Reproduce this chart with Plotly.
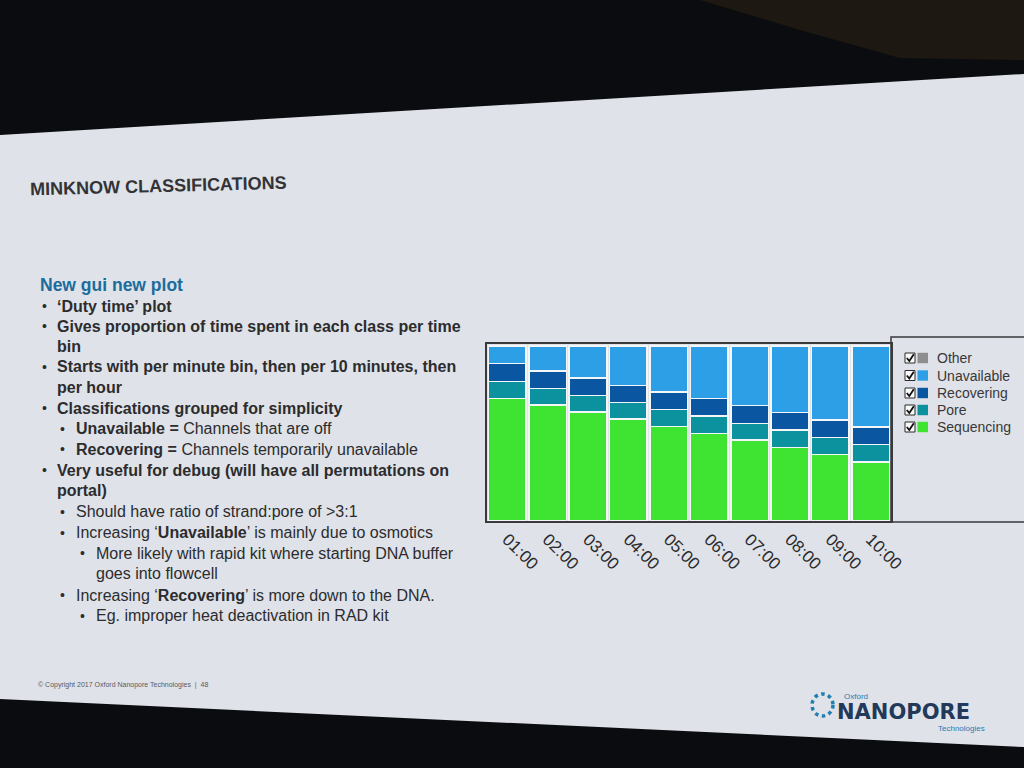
import plotly.graph_objects as go

W, H = 1024, 768

# ---------------- data ----------------
hours = ["01:00", "02:00", "03:00", "04:00", "05:00", "06:00", "07:00", "08:00", "09:00", "10:00"]
sequencing = [70.0, 66.1, 62.1, 58.1, 54.0, 50.0, 46.2, 42.0, 38.0, 33.8]
pore = [9.6, 9.5, 9.6, 9.6, 9.7, 10.0, 9.5, 9.9, 9.6, 9.9]
recovering = [10.4, 9.9, 10.0, 9.7, 10.0, 9.8, 10.1, 9.9, 10.0, 9.8]
unavailable = [10.0, 14.5, 18.3, 22.6, 26.3, 30.2, 34.2, 38.2, 42.4, 46.5]
other = [0, 0, 0, 0, 0, 0, 0, 0, 0, 0]

series_names = ["Sequencing", "Pore", "Recovering", "Unavailable", "Other"]
series_values = [sequencing, pore, recovering, unavailable, other]
series_colors = ["#3fe433", "#0b929e", "#0a56a0", "#2d9fe6", "#8e8e8e"]


def px(x):
    return x / W


def py(y):
    return 1 - y / H


fig = go.Figure()
for name, vals, col in zip(series_names, series_values, series_colors):
    fig.add_trace(go.Bar(
        x=hours, y=vals, name=name, showlegend=False,
        marker=dict(color=col, line=dict(color="#f4f6f8", width=1.5)),
    ))

TXT = "Liberation Sans, Arial, sans-serif"
DARK = "#2c2c2e"

shapes = []
# slide surface
shapes.append(dict(type="path", xref="paper", yref="paper", layer="below",
                   path=f"M 0,{py(135)} L 1,{py(74)} L 1,{py(747)} L 0,{py(699)} Z",
                   fillcolor="#dfe2e8", line=dict(width=0)))
# dark object top right
shapes.append(dict(type="path", xref="paper", yref="paper", layer="below",
                   path=f"M {px(700)},1 L 1,1 L 1,{py(60)} L {px(900)},{py(58)} L {px(800)},{py(30)} Z",
                   fillcolor="#1d1812", line=dict(width=0)))
# legend box
shapes.append(dict(type="rect", xref="paper", yref="paper", layer="below",
                   x0=px(891), x1=1.02, y0=py(522), y1=py(337),
                   fillcolor="rgba(0,0,0,0)", line=dict(color="#3a3a3c", width=1.5)))
# logo ring
shapes.append(dict(type="circle", xref="paper", yref="paper", layer="below",
                   x0=px(812), x1=px(833), y0=py(716), y1=py(694),
                   fillcolor="rgba(0,0,0,0)", line=dict(color="#1f7fb0", width=3.5, dash="dot")))

ann = []


def text(x, y, s, size=16, color=DARK, angle=0, anchor="left", family=TXT):
    ann.append(dict(x=px(x), y=py(y), xref="paper", yref="paper", text=s,
                    showarrow=False, xanchor=anchor, yanchor="middle", textangle=angle,
                    font=dict(family=family, size=size, color=color)))


text(28, 186, "<b>MINKNOW CLASSIFICATIONS</b>", size=18, color="#333336", angle=-1.5)
text(38, 285, "<b>New gui new plot</b>", size=17.5, color="#1b6c9c")

B1, T1 = 40, 55
B2, T2 = 58, 74
B3, T3 = 78, 94
lines = [
    (B1, T1, 306, "<b>‘Duty time’ plot</b>"),
    (B1, T1, 326, "<b>Gives proportion of time spent in each class per time</b>"),
    (None, T1, 346.5, "<b>bin</b>"),
    (B1, T1, 367, "<b>Starts with per minute bin, then per 10 minutes, then</b>"),
    (None, T1, 387.5, "<b>per hour</b>"),
    (B1, T1, 408, "<b>Classifications grouped for simplicity</b>"),
    (B2, T2, 428.5, "<b>Unavailable =</b> Channels that are off"),
    (B2, T2, 449, "<b>Recovering =</b> Channels temporarily unavailable"),
    (B1, T1, 470, "<b>Very useful for debug (will have all permutations on</b>"),
    (None, T1, 490.5, "<b>portal)</b>"),
    (B2, T2, 511.5, "Should have ratio of strand:pore of >3:1"),
    (B2, T2, 532.5, "Increasing ‘<b>Unavailable</b>’ is mainly due to osmotics"),
    (B3, T3, 553, "More likely with rapid kit where starting DNA buffer"),
    (None, T3, 573.5, "goes into flowcell"),
    (B2, T2, 595, "Increasing ‘<b>Recovering</b>’ is more down to the DNA."),
    (B3, T3, 615.5, "Eg. improper heat deactivation in RAD kit"),
]
for bx, tx, y, s in lines:
    if bx is not None:
        text(bx, y, "•", size=14)
    text(tx, y, s, size=16)

# footer
text(36, 685, "© Copyright 2017 Oxford Nanopore Technologies  |  48", size=7, color="#5a5a5e")
text(842, 696, "Oxford", size=8, color="#2a7ab0")
text(835, 712, "<b>NANOPORE</b>", size=21, color="#22395a", family="DejaVu Sans, Liberation Sans, sans-serif")
text(987, 728, "Technologies", size=8, color="#2a7ab0", anchor="right")

# custom legend (checkbox + swatch + label), top to bottom: Other ... Sequencing
legend_rows_y = [358, 375.5, 393, 410, 427]
for y, name, col in zip(legend_rows_y, series_names[::-1], series_colors[::-1]):
    shapes.append(dict(type="rect", xref="paper", yref="paper",
                       x0=px(905), x1=px(915), y0=py(y + 5), y1=py(y - 5),
                       fillcolor="#fafafa", line=dict(color="#2a2a2a", width=1)))
    shapes.append(dict(type="path", xref="paper", yref="paper",
                       path=f"M {px(906.8)},{py(y)} L {px(909.3)},{py(y + 3)} L {px(913.8)},{py(y - 3.8)}",
                       line=dict(color="#111111", width=1.8)))
    shapes.append(dict(type="rect", xref="paper", yref="paper",
                       x0=px(917.5), x1=px(928), y0=py(y + 5.2), y1=py(y - 5.2),
                       fillcolor=col, line=dict(width=0)))
    text(935, y, name, size=14, color="#38383a")

fig.update_layout(
    width=W, height=H, autosize=False,
    margin=dict(l=0, r=0, t=0, b=0, pad=0, autoexpand=False),
    paper_bgcolor="#0b0c10",
    plot_bgcolor="rgba(0,0,0,0)",
    barmode="stack",
    bargap=0.07,
    showlegend=False,
    xaxis=dict(domain=[px(487), px(891)], showline=True, mirror=True, automargin=False,
               linecolor="#3a3a3c", linewidth=1.5, ticks="", tickangle=45,
               tickfont=dict(family=TXT, size=17, color="#2a2a2c"),
               showgrid=False, zeroline=False),
    yaxis=dict(domain=[py(521), py(344)], range=[0, 101], showline=True, mirror=True, automargin=False,
               linecolor="#3a3a3c", linewidth=1.5, showticklabels=False, ticks="",
               showgrid=False, zeroline=False),
    shapes=shapes,
    annotations=ann,
    font=dict(family=TXT),
)

fig.write_html("out.html",
               config={"displayModeBar": False, "responsive": False},
               post_script="document.body.style.margin='0';document.body.style.overflow='hidden';")
